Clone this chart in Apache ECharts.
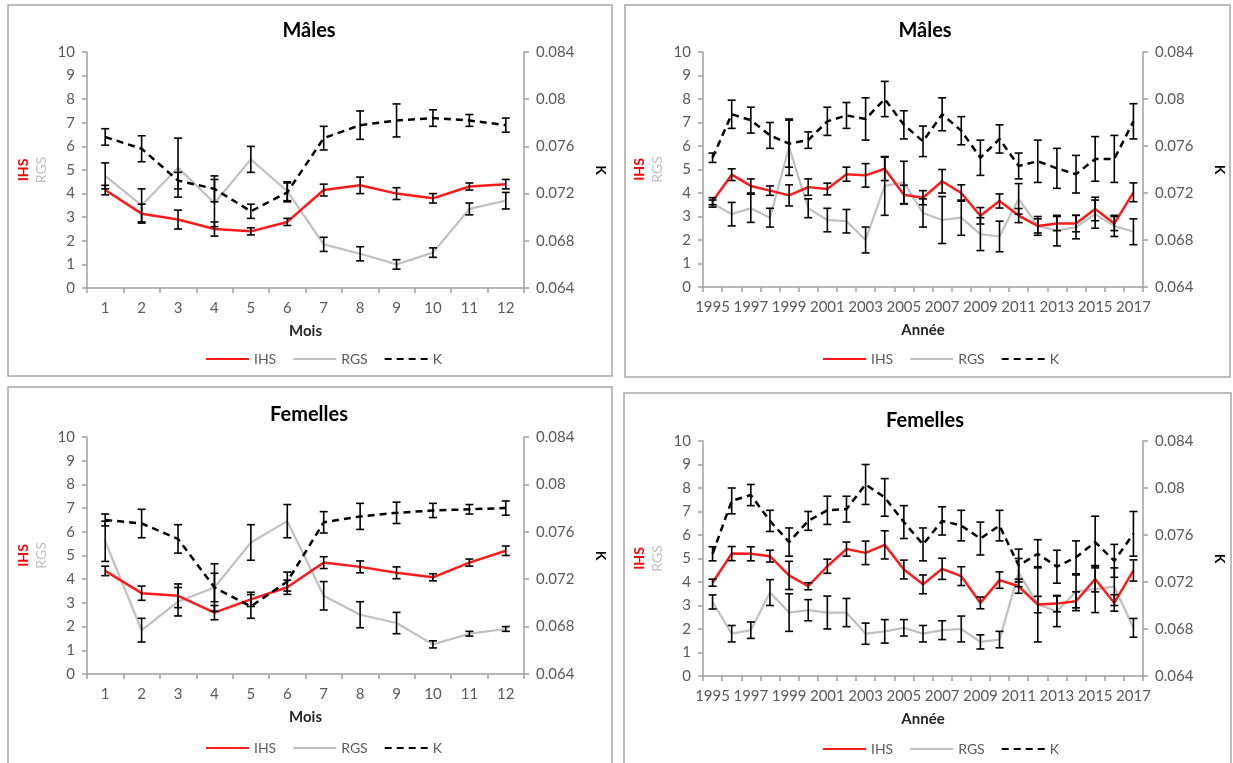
<!DOCTYPE html>
<html>
<head>
<meta charset="utf-8">
<script src="https://cdn.jsdelivr.net/npm/echarts@6/dist/echarts.min.js"></script>
<style>
html,body{margin:0;padding:0;background:#fff;}
#chart{width:1233px;height:763px;}
</style>
</head>
<body>
<div id="chart"></div>
<script>
// ---------- DATA ----------
const months = ['1','2','3','4','5','6','7','8','9','10','11','12'];
const years = ['1995','1996','1997','1998','1999','2000','2001','2002','2003','2004','2005','2006','2007','2008','2009','2010','2011','2012','2013','2014','2015','2016','2017'];
const kTicks = [0.064, 0.068, 0.072, 0.076, 0.08, 0.084];

// Panel 1 : Mâles / Mois
const m_mois_IHS     = [4.15, 3.15, 2.9, 2.5, 2.4, 2.8, 4.15, 4.35, 4.0, 3.8, 4.3, 4.4];
const m_mois_IHS_err = [0.2, 0.4, 0.4, 0.3, 0.15, 0.15, 0.25, 0.35, 0.25, 0.2, 0.15, 0.2];
const m_mois_RGS     = [4.75, 3.5, 5.1, 3.6, 5.45, 4.1, 1.85, 1.45, 1.0, 1.5, 3.35, 3.7];
const m_mois_RGS_err = [0.55, 0.7, 1.25, 1.0, 0.55, 0.4, 0.3, 0.3, 0.2, 0.2, 0.25, 0.35];
const m_mois_K       = [0.0768, 0.0758, 0.0731, 0.0724, 0.0705, 0.0721, 0.0767, 0.0778, 0.0782, 0.0784, 0.0782, 0.0778];
const m_mois_K_err   = [0.0007, 0.0011, 0.0007, 0.0011, 0.0006, 0.0008, 0.0010, 0.0012, 0.0014, 0.0007, 0.0005, 0.0006];

// Panel 2 : Mâles / Année
const m_an_IHS     = [3.65, 4.78, 4.3, 4.1, 3.9, 4.25, 4.17, 4.8, 4.75, 5.03, 3.93, 3.8, 4.5, 4.0, 3.03, 3.66, 3.04, 2.6, 2.7, 2.7, 3.32, 2.7, 4.03];
const m_an_IHS_err = [0.15, 0.25, 0.3, 0.2, 0.45, 0.35, 0.25, 0.3, 0.5, 0.5, 0.4, 0.3, 0.5, 0.35, 0.35, 0.3, 0.3, 0.3, 0.3, 0.35, 0.5, 0.3, 0.4];
const m_an_RGS     = [3.55, 3.1, 3.35, 2.95, 5.95, 3.35, 2.85, 2.8, 2.0, 4.3, 4.45, 3.15, 2.85, 2.95, 2.25, 2.15, 3.75, 2.6, 2.4, 2.55, 3.1, 2.6, 2.35];
const m_an_RGS_err = [0.15, 0.5, 0.6, 0.4, 1.2, 0.4, 0.5, 0.5, 0.55, 1.25, 0.9, 0.6, 1.0, 0.75, 0.7, 0.65, 0.65, 0.4, 0.65, 0.5, 0.6, 0.45, 0.55];
const m_an_K       = [0.0750, 0.0787, 0.0782, 0.0769, 0.0762, 0.0765, 0.0781, 0.0786, 0.0783, 0.0800, 0.0778, 0.0764, 0.0787, 0.0773, 0.0750, 0.0766, 0.0743, 0.0747, 0.0741, 0.0736, 0.0749, 0.0749, 0.0781];
const m_an_K_err   = [0.0004, 0.0012, 0.0011, 0.0011, 0.0020, 0.0007, 0.0012, 0.0011, 0.0018, 0.0015, 0.0012, 0.0013, 0.0014, 0.0012, 0.0015, 0.0012, 0.0011, 0.0018, 0.0017, 0.0016, 0.0019, 0.0020, 0.0015];

// Panel 3 : Femelles / Mois
const f_mois_IHS     = [4.35, 3.41, 3.3, 2.59, 3.15, 3.66, 4.7, 4.52, 4.27, 4.08, 4.7, 5.2];
const f_mois_IHS_err = [0.2, 0.3, 0.5, 0.3, 0.3, 0.3, 0.25, 0.25, 0.25, 0.15, 0.15, 0.2];
const f_mois_RGS     = [5.6, 1.85, 3.05, 3.65, 5.55, 6.45, 3.3, 2.5, 2.15, 1.25, 1.7, 1.9];
const f_mois_RGS_err = [0.85, 0.5, 0.6, 1.0, 0.75, 0.7, 0.6, 0.55, 0.45, 0.15, 0.1, 0.1];
const f_mois_K       = [0.0770, 0.0767, 0.0754, 0.0713, 0.0697, 0.0718, 0.0768, 0.0773, 0.0776, 0.0778, 0.0779, 0.0780];
const f_mois_K_err   = [0.0005, 0.0012, 0.0012, 0.0012, 0.0010, 0.0008, 0.0009, 0.0011, 0.0009, 0.0006, 0.0004, 0.0006];

// Panel 4 : Femelles / Année
const f_an_IHS     = [3.97, 5.21, 5.2, 5.1, 4.28, 3.82, 4.67, 5.4, 5.24, 5.58, 4.53, 3.9, 4.56, 4.25, 3.11, 4.08, 3.82, 3.04, 3.08, 3.18, 4.13, 3.11, 4.49];
const f_an_IHS_err = [0.15, 0.3, 0.3, 0.25, 0.6, 0.15, 0.3, 0.3, 0.5, 0.6, 0.4, 0.4, 0.45, 0.4, 0.25, 0.35, 0.3, 0.35, 0.35, 0.4, 0.55, 0.35, 0.45];
const f_an_RGS     = [3.15, 1.8, 1.95, 3.55, 2.7, 2.8, 2.7, 2.7, 1.8, 1.9, 2.05, 1.8, 1.95, 2.0, 1.45, 1.55, 4.4, 3.05, 2.75, 3.6, 3.7, 3.8, 2.05];
const f_an_RGS_err = [0.3, 0.35, 0.35, 0.55, 0.8, 0.45, 0.7, 0.6, 0.45, 0.5, 0.35, 0.35, 0.4, 0.55, 0.3, 0.35, 0.6, 1.6, 0.65, 0.7, 1.0, 0.8, 0.4];
const f_an_K       = [0.0744, 0.0789, 0.0794, 0.0772, 0.0754, 0.0772, 0.0781, 0.0782, 0.0803, 0.0792, 0.0771, 0.0752, 0.0772, 0.0768, 0.0757, 0.0768, 0.0734, 0.0744, 0.0733, 0.0741, 0.0754, 0.0738, 0.0761];
const f_an_K_err   = [0.0006, 0.0011, 0.0009, 0.0009, 0.0012, 0.0008, 0.0012, 0.0011, 0.0017, 0.0016, 0.0014, 0.0014, 0.0012, 0.0013, 0.0014, 0.0013, 0.0014, 0.0012, 0.0014, 0.0014, 0.0022, 0.0014, 0.0019];

const panelTitles = ['Mâles', 'Mâles', 'Femelles', 'Femelles'];
const xNames = ['Mois', 'Année', 'Mois', 'Année'];

// ---------- LAYOUT / STYLE ----------
const FONT = 'Lato, "Liberation Sans", sans-serif';
const LABEL = '#595959';
const AXIS = '#a0a0a0';
const panels = [
  {cats: months, ihs: m_mois_IHS, ihsE: m_mois_IHS_err, rgs: m_mois_RGS, rgsE: m_mois_RGS_err, k: m_mois_K, kE: m_mois_K_err,
   grid: {left: 87, top: 52, width: 437, height: 236}, title: [309, 21], legend: [200, 347], frame: [8, 5, 604, 371]},
  {cats: years, ihs: m_an_IHS, ihsE: m_an_IHS_err, rgs: m_an_RGS, rgsE: m_an_RGS_err, k: m_an_K, kE: m_an_K_err,
   grid: {left: 703, top: 52, width: 440, height: 235}, title: [925, 21], legend: [817, 347], frame: [625, 5, 605, 372]},
  {cats: months, ihs: f_mois_IHS, ihsE: f_mois_IHS_err, rgs: f_mois_RGS, rgsE: f_mois_RGS_err, k: f_mois_K, kE: f_mois_K_err,
   grid: {left: 87, top: 437, width: 437, height: 237}, title: [309, 405], legend: [200, 736], frame: [8, 387, 604, 380]},
  {cats: years, ihs: f_an_IHS, ihsE: f_an_IHS_err, rgs: f_an_RGS, rgsE: f_an_RGS_err, k: f_an_K, kE: f_an_K_err,
   grid: {left: 703, top: 441, width: 440, height: 235}, title: [925, 411], legend: [817, 737], frame: [624, 393, 607, 380]}
];

function errBars(params, api) {
  const x = api.value(0), v = api.value(1), e = api.value(2);
  const top = api.coord([x, v + e]);
  const bot = api.coord([x, v - e]);
  const hw = 4;
  const st = {stroke: '#000', lineWidth: 1.6};
  return {type: 'group', children: [
    {type: 'line', shape: {x1: top[0], y1: top[1], x2: bot[0], y2: bot[1]}, style: st},
    {type: 'line', shape: {x1: top[0]-hw, y1: top[1], x2: top[0]+hw, y2: top[1]}, style: st},
    {type: 'line', shape: {x1: bot[0]-hw, y1: bot[1], x2: bot[0]+hw, y2: bot[1]}, style: st}
  ]};
}

const option = {
  animation: false,
  backgroundColor: '#fff',
  textStyle: {fontFamily: FONT},
  title: [], legend: [], grid: [], xAxis: [], yAxis: [], series: [],
  graphic: []
};

panels.forEach((p, i) => {
  const f = p.frame;
  option.graphic.push({type: 'rect', shape: {x: f[0], y: f[1], width: f[2], height: f[3]},
    style: {fill: 'none', stroke: '#a6a6a6', lineWidth: 1.5}, z: -1, silent: true});
  option.title.push({text: panelTitles[i], left: p.title[0], top: p.title[1], textAlign: 'center', padding: 0,
    textStyle: {fontFamily: FONT, fontSize: 20, fontWeight: 'bold', color: '#000'}});
  option.legend.push({left: p.legend[0], top: p.legend[1], itemWidth: 43, itemHeight: 12, itemGap: 16,
    data: ['IHS', 'RGS', 'K'], itemStyle: {opacity: 0, borderWidth: 0},
    textStyle: {fontFamily: FONT, fontSize: 14, color: LABEL}, selectedMode: false});
  option.grid.push(Object.assign({containLabel: false}, p.grid));
  const yearAxis = p.cats.length > 12;
  option.xAxis.push({type: 'category', gridIndex: i, data: p.cats, boundaryGap: true,
    name: xNames[i], nameLocation: 'middle', nameGap: 36,
    nameTextStyle: {fontFamily: FONT, fontSize: 15, fontWeight: 'bold', color: '#262626'},
    axisLine: {lineStyle: {color: AXIS, width: 1.5}},
    axisTick: {show: true, interval: 0, length: 5, lineStyle: {color: AXIS, width: 1.5}},
    axisLabel: {interval: yearAxis ? 1 : 0, fontFamily: FONT, fontSize: 15, color: LABEL, margin: 13},
    splitLine: {show: false}});
  option.yAxis.push({type: 'value', gridIndex: i, min: 0, max: 10, interval: 1, position: 'left',
    name: '{a|IHS}\n{b|RGS}', nameLocation: 'middle', nameRotate: 90, nameGap: 37,
    nameTextStyle: {rich: {a: {fontFamily: FONT, fontSize: 14, fontWeight: 'bold', color: '#ff0000', lineHeight: 18},
                           b: {fontFamily: FONT, fontSize: 14, color: '#bfbfbf', lineHeight: 18}}},
    axisLine: {show: true, lineStyle: {color: AXIS, width: 1.5}},
    axisTick: {show: true, length: 5, lineStyle: {color: AXIS, width: 1.5}},
    axisLabel: {fontFamily: FONT, fontSize: 15, color: LABEL, margin: 12},
    splitLine: {show: false}});
  option.yAxis.push({type: 'value', gridIndex: i, min: kTicks[0], max: kTicks[kTicks.length-1], interval: 0.004, position: 'right',
    name: 'K', nameLocation: 'middle', nameRotate: -90, nameGap: 70,
    nameTextStyle: {fontFamily: FONT, fontSize: 14, fontWeight: 'bold', color: '#000'},
    axisLine: {show: true, lineStyle: {color: AXIS, width: 1.5}},
    axisTick: {show: true, length: 5, lineStyle: {color: AXIS, width: 1.5}},
    axisLabel: {fontFamily: FONT, fontSize: 15, color: LABEL, margin: 12,
      formatter: v => String(+v.toFixed(3))},
    splitLine: {show: false}});
  const yL = 2*i, yR = 2*i + 1;
  option.series.push(
    {name: 'IHS', type: 'line', xAxisIndex: i, yAxisIndex: yL, data: p.ihs, symbol: 'none', z: 3,
     lineStyle: {color: '#ff1a1a', width: 2.5}, itemStyle: {color: '#ff1a1a'}},
    {name: 'RGS', type: 'line', xAxisIndex: i, yAxisIndex: yL, data: p.rgs, symbol: 'none', z: 2,
     lineStyle: {color: '#c0c0c0', width: 2.2}, itemStyle: {color: '#c0c0c0'}},
    {name: 'K', type: 'line', xAxisIndex: i, yAxisIndex: yR, data: p.k, symbol: 'none', z: 4,
     lineStyle: {color: '#000', width: 2.5, type: [7, 5]}, itemStyle: {color: '#000'}},
    {name: 'IHS err', type: 'custom', xAxisIndex: i, yAxisIndex: yL, renderItem: errBars, z: 5,
     data: p.ihs.map((v, j) => [j, v, p.ihsE[j]])},
    {name: 'RGS err', type: 'custom', xAxisIndex: i, yAxisIndex: yL, renderItem: errBars, z: 5,
     data: p.rgs.map((v, j) => [j, v, p.rgsE[j]])},
    {name: 'K err', type: 'custom', xAxisIndex: i, yAxisIndex: yR, renderItem: errBars, z: 5,
     data: p.k.map((v, j) => [j, v, p.kE[j]])}
  );
});

const chart = echarts.init(document.getElementById('chart'), null, {renderer: 'canvas'});
chart.setOption(option);
</script>
</body>
</html>
